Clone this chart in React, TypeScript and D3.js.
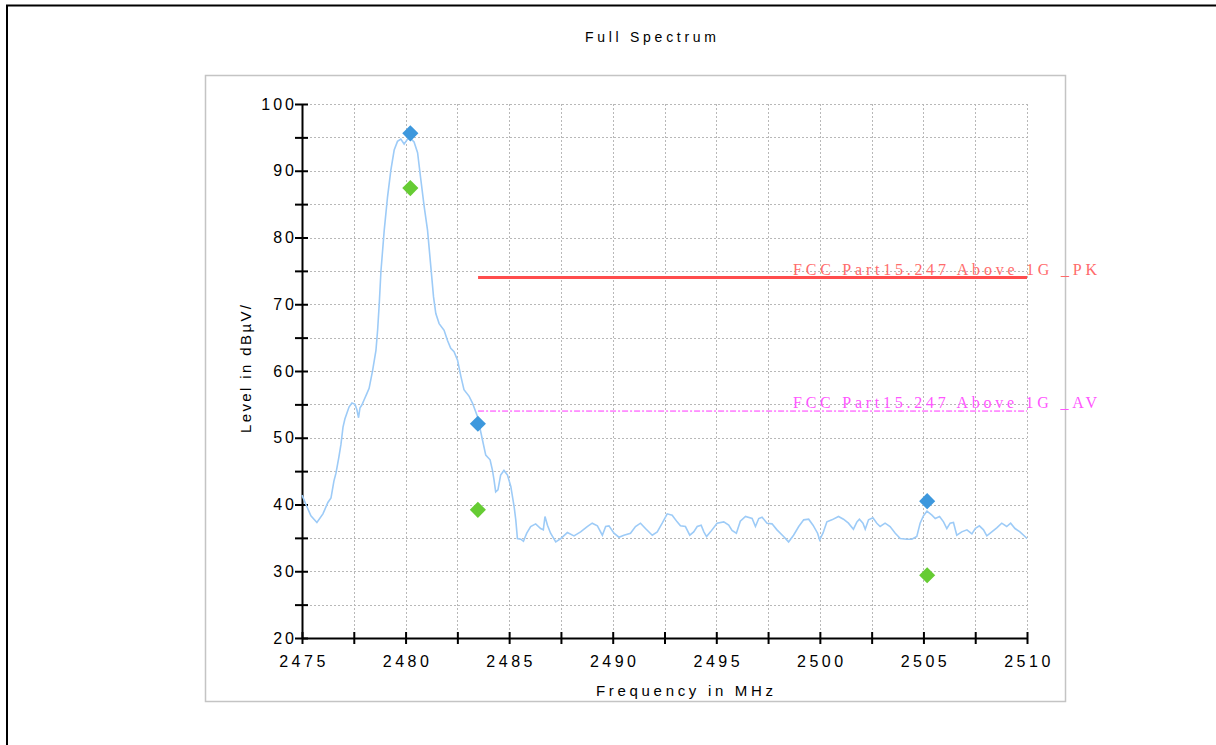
import React, { useRef, useEffect } from 'react';
import * as d3 from 'd3';

// spectrum trace (MHz, dBµV/m)
const traceFreq = [
  2475.00, 2475.19, 2475.43, 2475.72, 2476.01, 2476.25, 2476.40, 2476.54, 2476.64, 2476.78,
  2476.88, 2476.98, 2477.07, 2477.17, 2477.27, 2477.41, 2477.56, 2477.65, 2477.73, 2477.80,
  2477.89, 2478.00, 2478.13, 2478.24, 2478.41, 2478.57, 2478.65, 2478.73, 2478.81, 2478.97,
  2479.13, 2479.29, 2479.45, 2479.61, 2479.77, 2479.93, 2480.10, 2480.25, 2480.41, 2480.58,
  2480.74, 2480.90, 2481.06, 2481.22, 2481.35, 2481.46, 2481.62, 2481.86, 2482.02, 2482.18,
  2482.34, 2482.51, 2482.67, 2482.82, 2483.07, 2483.23, 2483.47, 2483.71, 2483.87, 2484.08,
  2484.19, 2484.27, 2484.35, 2484.46, 2484.59, 2484.75, 2484.92, 2485.08, 2485.24, 2485.32,
  2485.40, 2485.56, 2485.69, 2485.85, 2486.04, 2486.28, 2486.52, 2486.65, 2486.73, 2486.85,
  2487.00, 2487.25, 2487.49, 2487.81, 2488.13, 2488.45, 2488.77, 2489.01, 2489.26, 2489.50,
  2489.66, 2489.82, 2490.06, 2490.30, 2490.54, 2490.86, 2491.10, 2491.34, 2491.58, 2491.91,
  2492.15, 2492.39, 2492.63, 2492.87, 2493.11, 2493.27, 2493.51, 2493.72, 2493.91, 2494.08,
  2494.27, 2494.40, 2494.53, 2494.72, 2495.04, 2495.36, 2495.60, 2495.76, 2495.97, 2496.16,
  2496.41, 2496.73, 2496.89, 2497.05, 2497.21, 2497.45, 2497.69, 2497.93, 2498.25, 2498.49,
  2498.73, 2498.98, 2499.22, 2499.46, 2499.67, 2499.89, 2499.99, 2500.15, 2500.34, 2500.58,
  2500.90, 2501.14, 2501.38, 2501.62, 2501.79, 2501.91, 2502.08, 2502.19, 2502.35, 2502.56,
  2502.75, 2502.91, 2503.15, 2503.39, 2503.64, 2503.88, 2504.20, 2504.44, 2504.68, 2504.84,
  2505.00, 2505.17, 2505.41, 2505.57, 2505.78, 2505.97, 2506.13, 2506.29, 2506.45, 2506.61,
  2506.85, 2507.10, 2507.34, 2507.50, 2507.70, 2507.90, 2508.06, 2508.30, 2508.54, 2508.78,
  2509.02, 2509.21, 2509.42, 2509.66, 2509.90, 2510.00
];
const traceLevel = [
  41.4, 40.0, 38.3, 37.3, 38.6, 40.3, 41.0, 43.5, 44.7, 47.1,
  49.0, 51.6, 52.8, 53.7, 54.6, 55.2, 55.0, 54.2, 53.0, 54.5,
  54.9, 55.7, 56.6, 57.4, 60.1, 63.1, 66.1, 70.1, 74.9, 81.1,
  86.1, 90.1, 93.1, 94.4, 94.75, 94.0, 94.75, 94.8, 94.3, 92.7,
  88.6, 84.6, 81.1, 75.6, 71.1, 68.6, 67.1, 66.1, 64.6, 63.4,
  62.9, 61.6, 59.2, 57.2, 56.2, 55.2, 53.2, 49.7, 47.4, 46.7,
  45.2, 43.7, 41.9, 42.2, 44.4, 45.1, 44.4, 42.7, 39.7, 37.7,
  34.9, 34.8, 34.5, 35.7, 36.7, 37.1, 36.4, 36.2, 38.2, 36.9,
  35.7, 34.4, 34.9, 35.8, 35.3, 35.9, 36.7, 37.2, 36.8, 35.4,
  36.7, 36.8, 35.7, 35.1, 35.4, 35.7, 36.7, 37.2, 36.4, 35.4,
  35.9, 37.2, 38.6, 38.4, 37.4, 36.8, 36.7, 35.4, 35.9, 36.7,
  36.9, 35.9, 35.2, 35.9, 37.2, 37.4, 36.9, 36.1, 35.7, 37.5,
  38.2, 37.9, 36.7, 37.9, 38.1, 37.2, 37.1, 36.2, 35.2, 34.4,
  35.4, 36.7, 37.7, 37.8, 36.9, 35.7, 34.7, 35.7, 37.4, 37.7,
  38.2, 37.8, 37.2, 36.3, 37.4, 37.8, 37.2, 36.3, 37.7, 38.0,
  37.2, 36.7, 37.2, 36.7, 35.7, 34.9, 34.8, 34.8, 35.2, 37.2,
  38.3, 39.0, 38.4, 37.9, 38.2, 37.4, 36.4, 37.2, 37.3, 35.4,
  35.9, 36.2, 35.6, 36.4, 36.8, 36.2, 35.3, 35.9, 36.5, 37.2,
  36.7, 37.2, 36.4, 35.9, 35.2, 34.9
];

// final measurement markers
const markerFreq = [2480.23, 2483.49, 2505.18];
const peakLevel = [95.6, 52.1, 40.5];
const avgLevel = [87.4, 39.2, 29.4];

// limit lines
const limitNames = ['FCC Part15.247 Above 1G _PK', 'FCC Part15.247 Above 1G _AV'];
const limitLevels = [74, 54];
const limitStart = 2483.5;
const limitEnd = 2510;

const xTicks = [2475, 2480, 2485, 2490, 2495, 2500, 2505, 2510];
const yTicks = [20, 30, 40, 50, 60, 70, 80, 90, 100];

const W = 1216;
const H = 745;
const sans = '"Liberation Sans", Arial, sans-serif';

function SpectrumChart() {
  const svgRef = useRef<SVGSVGElement | null>(null);

  useEffect(() => {
    const svg = d3.select(svgRef.current);
    svg.selectAll('*').remove();

    const x = d3.scaleLinear().domain([2475, 2510]).range([302, 1027]);
    const y = d3.scaleLinear().domain([20, 100]).range([638, 104]);

    // page frame
    svg.append('line').attr('x1', 6).attr('x2', W).attr('y1', 5.5).attr('y2', 5.5)
      .attr('stroke', '#000').attr('stroke-width', 2);
    svg.append('line').attr('x1', 7).attr('x2', 7).attr('y1', 5).attr('y2', H)
      .attr('stroke', '#000').attr('stroke-width', 2);

    // title
    svg.append('text')
      .attr('x', 585).attr('y', 42)
      .attr('textLength', 131).attr('lengthAdjust', 'spacing')
      .style('font-family', sans).style('font-size', '14px')
      .text('Full Spectrum');

    // plot box
    svg.append('rect')
      .attr('x', 205.5).attr('y', 75.5).attr('width', 860).attr('height', 626)
      .attr('fill', '#fff').attr('stroke', '#c4c4c4').attr('stroke-width', 1.5);

    // dotted grid
    const grid = svg.append('g').attr('stroke', '#b8b8b8').attr('stroke-width', 1)
      .attr('stroke-dasharray', '2,2');
    grid.selectAll('.gx').data(d3.range(2477.5, 2510.1, 2.5)).enter().append('line')
      .attr('x1', d => Math.round(x(d)) + 0.5).attr('x2', d => Math.round(x(d)) + 0.5)
      .attr('y1', y(100)).attr('y2', y(20));
    grid.selectAll('.gy').data(d3.range(25, 100.1, 5)).enter().append('line')
      .attr('x1', x(2475)).attr('x2', x(2510))
      .attr('y1', d => Math.round(y(d)) + 0.5).attr('y2', d => Math.round(y(d)) + 0.5);

    // y axis
    const yAxis = svg.append('g').attr('transform', `translate(${x(2475)},0)`)
      .call(d3.axisLeft(y).tickValues(d3.range(20, 100.1, 5)).tickSizeOuter(0)
        .tickFormat(d => (yTicks.includes(+d) ? String(d) : '')).tickPadding(8));
    yAxis.select('.domain').attr('stroke-width', 2);
    yAxis.selectAll('.tick line').attr('x1', -7).attr('x2', 6).attr('stroke-width', 2);
    yAxis.selectAll('.tick text')
      .style('font-family', sans).style('font-size', '16px').style('letter-spacing', '3px')
      .attr('fill', '#000').attr('dx', '9px');

    // x axis
    const xAxis = svg.append('g').attr('transform', `translate(0,${y(20)})`)
      .call(d3.axisBottom(x).tickValues(d3.range(2475, 2510.1, 2.5)).tickSizeOuter(0)
        .tickFormat(d => (xTicks.includes(+d) ? String(d) : '')).tickPadding(12));
    xAxis.select('.domain').attr('stroke-width', 2);
    xAxis.selectAll('.tick line').attr('y1', -6).attr('y2', 6).attr('stroke-width', 2);
    xAxis.selectAll('.tick text')
      .style('font-family', sans).style('font-size', '16px').style('letter-spacing', '3.5px')
      .attr('fill', '#000').attr('dx', '1.5px');

    // axis titles
    svg.append('text')
      .attr('x', 596).attr('y', 696)
      .attr('textLength', 177).attr('lengthAdjust', 'spacing')
      .style('font-family', sans).style('font-size', '15px')
      .text('Frequency in MHz');
    svg.append('text')
      .attr('transform', 'translate(251,433) rotate(-90)')
      .attr('textLength', 128).attr('lengthAdjust', 'spacing')
      .style('font-family', sans).style('font-size', '15px')
      .text('Level in dBµV/');

    // limit lines
    const limitColors = ['#ff4d4d', '#ff33ff'];
    const labelColors = ['#ff6b6b', '#ff55ff'];
    limitLevels.forEach((lv, i) => {
      svg.append('line')
        .attr('x1', x(limitStart)).attr('x2', x(limitEnd))
        .attr('y1', y(lv)).attr('y2', y(lv))
        .attr('stroke', limitColors[i])
        .attr('stroke-width', i === 0 ? 3 : 1)
        .attr('stroke-dasharray', i === 0 ? null : '6,2,2,2');
      svg.append('text')
        .attr('x', 793).attr('y', y(lv) - (i === 0 ? 3 : 3))
        .attr('textLength', 304).attr('lengthAdjust', 'spacing')
        .attr('fill', labelColors[i])
        .style('font-family', '"Liberation Serif", "DejaVu Serif", serif')
        .style('font-size', '16px')
        .text(limitNames[i]);
    });

    // trace
    const pts = traceFreq.map((f, i) => [f, traceLevel[i]] as [number, number]);
    const line = d3.line<[number, number]>().x(d => x(d[0])).y(d => y(d[1]));
    svg.append('path').datum(pts)
      .attr('d', line)
      .attr('fill', 'none').attr('stroke', '#9dcbf7').attr('stroke-width', 1.6);

    // markers
    const diamond = d3.symbol().type(d3.symbolSquare).size(130);
    markerFreq.forEach((f, i) => {
      svg.append('path').attr('d', diamond())
        .attr('transform', `translate(${x(f)},${y(peakLevel[i])}) rotate(45)`)
        .attr('fill', '#3d98dd');
      svg.append('path').attr('d', diamond())
        .attr('transform', `translate(${x(f)},${y(avgLevel[i])}) rotate(45)`)
        .attr('fill', '#66cc33');
    });
  }, []);

  return <svg ref={svgRef} width={W} height={H} style={{ position: 'absolute', left: 0, top: 0, background: '#fff' }} />;
}

export default function App() {
  return <SpectrumChart />;
}
